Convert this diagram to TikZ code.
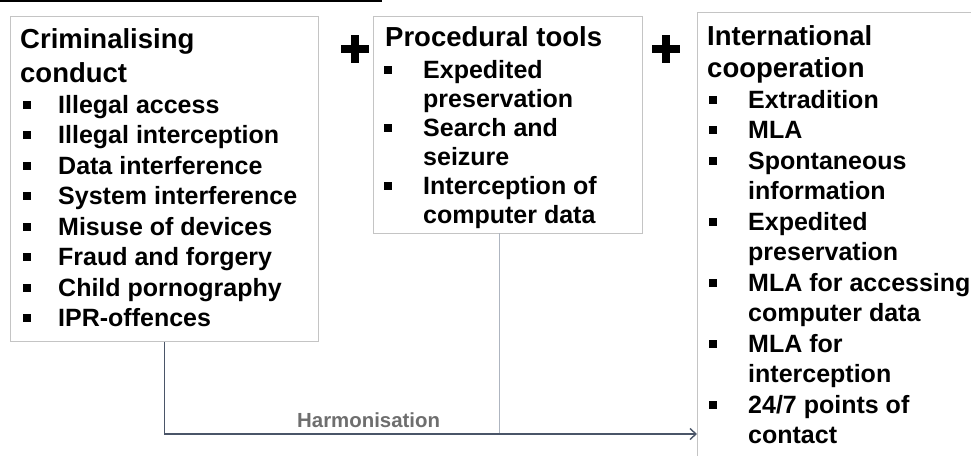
\documentclass[tikz,border=0pt]{standalone}
\usepackage{fontspec}
\setmainfont{Liberation Sans}
\usetikzlibrary{arrows.meta}
\definecolor{boxgray}{HTML}{C4C4C4}
\definecolor{linkdark}{HTML}{4A5568}
\definecolor{linklight}{HTML}{AEB5C0}
\definecolor{harmgray}{HTML}{6E6E6E}
\begin{document}
\begin{tikzpicture}[x=1pt,y=-1pt,
  box/.style={draw=boxgray, line width=1.3pt, inner sep=0pt, anchor=north west},
  ttl/.style={anchor=base west, inner sep=0pt, font=\fontsize{27.5}{30}\selectfont\bfseries},
  itm/.style={anchor=base west, inner sep=0pt, font=\fontsize{25}{30}\selectfont\bfseries},
  bul/.style={fill=black, draw=none, minimum size=8pt, inner sep=0pt},
  darkline/.style={draw=linkdark, line width=1.4pt},
  lightline/.style={draw=linklight, line width=1pt},
  plussign/.style={line width=8pt, draw=black}]
\useasboundingbox (0,0) rectangle (971,455);
\clip (0,0) rectangle (971,455);

% stray rule at top
\draw[line width=2pt] (0,1) -- (382,1);

% boxes
\node[box, minimum width=308pt, minimum height=325pt] (b1) at (10,16) {};
\node[box, minimum width=269pt, minimum height=217pt] (b2) at (373,16) {};
\node[box, minimum width=320pt, minimum height=470pt] (b3) at (697,12) {};

% plus signs
\draw[plussign] (341,49) -- (369,49) (355,35) -- (355,63);
\draw[plussign] (652,49) -- (680,49) (666,35) -- (666,63);

% box 1
\node[ttl] (t1a) at (20,48) {Criminalising};
\node[ttl] (t1b) at (20,82) {conduct};
\foreach \t [count=\i] in {Illegal access, Illegal interception, Data interference, System interference, Misuse of devices, Fraud and forgery, Child pornography, IPR-offences} {
  \pgfmathsetmacro\yy{113+30.5*(\i-1)}
  \node[itm] (c\i) at (58,\yy) {\t};
  \node[bul] (cb\i) at (27,\yy-8.5) {};
}

% box 2
\node[ttl] (t2) at (385,46) {Procedural tools};
\node[itm] (p1) at (423,78) {Expedited};
\node[itm] (p2) at (423,107) {preservation};
\node[itm] (p3) at (423,136) {Search and};
\node[itm] (p4) at (423,165) {seizure};
\node[itm] (p5) at (423,194) {Interception of};
\node[itm] (p6) at (423,223) {computer data};
\node[bul] (pb1) at (388,69.5) {};
\node[bul] (pb3) at (388,127.5) {};
\node[bul] (pb5) at (388,185.5) {};

% box 3
\node[ttl] (t3a) at (707,45) {International};
\node[ttl] (t3b) at (707,77) {cooperation};
\node[itm] (i1) at (748,108) {Extradition};
\node[itm] (i2) at (748,138.5) {MLA};
\node[itm] (i3) at (748,169) {Spontaneous};
\node[itm] (i4) at (748,199.5) {information};
\node[itm] (i5) at (748,230) {Expedited};
\node[itm] (i6) at (748,260.5) {preservation};
\node[itm] (i7) at (748,291) {MLA for accessing};
\node[itm] (i8) at (748,321.5) {computer data};
\node[itm] (i9) at (748,352) {MLA for};
\node[itm] (i10) at (748,382.5) {interception};
\node[itm] (i11) at (748,413) {24/7 points of};
\node[itm] (i12) at (748,443.5) {contact};
\node[bul] (ib1) at (713,99.5) {};
\node[bul] (ib2) at (713,130) {};
\node[bul] (ib3) at (713,160.5) {};
\node[bul] (ib5) at (713,221.5) {};
\node[bul] (ib7) at (713,282.5) {};
\node[bul] (ib9) at (713,343.5) {};
\node[bul] (ib11) at (713,404.5) {};

% connectors
\coordinate (hy) at (0,434);
\coordinate (p2b) at (499,233);
\draw[lightline] (p2b) -- (p2b |- hy);
\draw[darkline, -{Straight Barb[length=6pt,width=11pt]}] (b1.south) |- (b3.west |- hy);
\node[anchor=base west, inner sep=0pt, text=harmgray, font=\fontsize{20.4}{24}\selectfont\bfseries] (harm) at (297,427) {Harmonisation};
\end{tikzpicture}
\end{document}
